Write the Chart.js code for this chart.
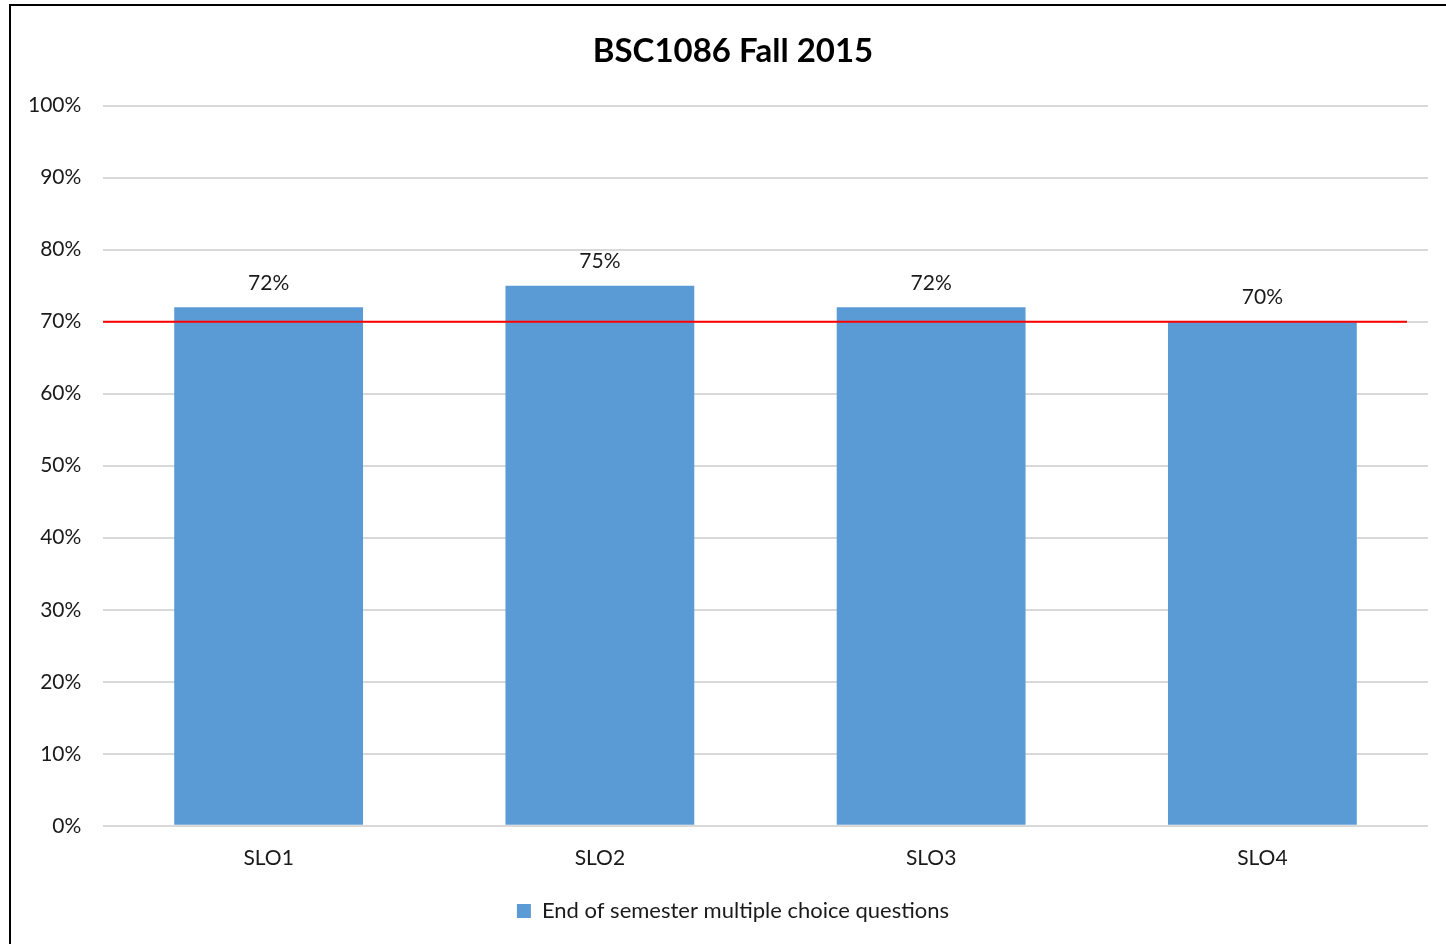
<!DOCTYPE html>
<html>
<head>
<meta charset="utf-8">
<script src="https://cdn.jsdelivr.net/npm/chart.js@4"></script>
<style>
  html, body { margin: 0; padding: 0; background: #fff; overflow: hidden; }
  #frame {
    position: absolute; left: 9px; top: 4px;
    width: 1446px; height: 960px;
    border: 2px solid #000; box-sizing: border-box; background: #fff;
  }
  #wrap { position: absolute; left: 0; top: 0; width: 1442px; height: 940px; }
</style>
</head>
<body>
<div id="frame"><div id="wrap"><canvas id="c"></canvas></div></div>
<script>
const categories = ['SLO1', 'SLO2', 'SLO3', 'SLO4'];
const scores = [72, 75, 72, 70];
const seriesName = 'End of semester multiple choice questions';
const targetLevel = 70;
const yTicks = [0, 10, 20, 30, 40, 50, 60, 70, 80, 90, 100];

const FONT = "Lato, 'Open Sans', 'Liberation Sans', sans-serif";
const TEXT = '#1a1a1a';

// value labels above each bar
const valueLabels = {
  id: 'valueLabels',
  afterDatasetsDraw(chart) {
    const ctx = chart.ctx;
    const meta = chart.getDatasetMeta(0);
    ctx.save();
    ctx.font = '21px ' + FONT;
    ctx.fillStyle = TEXT;
    ctx.textAlign = 'center';
    ctx.textBaseline = 'bottom';
    meta.data.forEach((bar, i) => {
      ctx.fillText(scores[i] + '%', bar.x, bar.y - 14);
    });
    ctx.restore();
  }
};

// horizontal target line
const targetLine = {
  id: 'targetLine',
  afterDatasetsDraw(chart) {
    const { ctx, chartArea, scales } = chart;
    const y = scales.y.getPixelForValue(targetLevel);
    ctx.save();
    ctx.strokeStyle = '#ff0000';
    ctx.lineWidth = 2;
    ctx.beginPath();
    ctx.moveTo(chartArea.left, y);
    ctx.lineTo(chartArea.right - 21, y);
    ctx.stroke();
    ctx.restore();
  }
};

new Chart(document.getElementById('c'), {
  type: 'bar',
  data: {
    labels: categories,
    datasets: [{
      label: seriesName,
      data: scores,
      backgroundColor: '#5b9bd5',
      borderWidth: 0,
      categoryPercentage: 0.57,
      barPercentage: 1
    }]
  },
  options: {
    responsive: true,
    maintainAspectRatio: false,
    animation: false,
    layout: { padding: { left: 27, right: 25, top: 26, bottom: 14 } },
    plugins: {
      title: {
        display: true,
        text: 'BSC1086 Fall 2015',
        color: '#000',
        font: { family: FONT, size: 33, weight: 'bold' },
        padding: { top: 0, bottom: 34 }
      },
      legend: {
        position: 'bottom',
        labels: {
          color: TEXT,
          font: { family: FONT, size: 22 },
          boxWidth: 14,
          boxHeight: 14,
          padding: 17
        }
      },
      tooltip: { enabled: false }
    },
    scales: {
      x: {
        grid: { display: false },
        border: { display: false },
        ticks: { color: TEXT, font: { family: FONT, size: 21 }, padding: 12 }
      },
      y: {
        min: 0, max: 100,
        afterBuildTicks(axis) { axis.ticks = yTicks.map(v => ({ value: v })); },
        afterFit(axis) { axis.width = 65; },
        grid: { color: '#d9d9d9', lineWidth: 2, drawTicks: false },
        border: { display: false },
        ticks: {
          color: TEXT,
          font: { family: FONT, size: 21 },
          mirror: true,
          crossAlign: 'far',
          padding: -75,
          callback: v => v + '%'
        }
      }
    }
  },
  plugins: [valueLabels, targetLine]
});
</script>
</body>
</html>
